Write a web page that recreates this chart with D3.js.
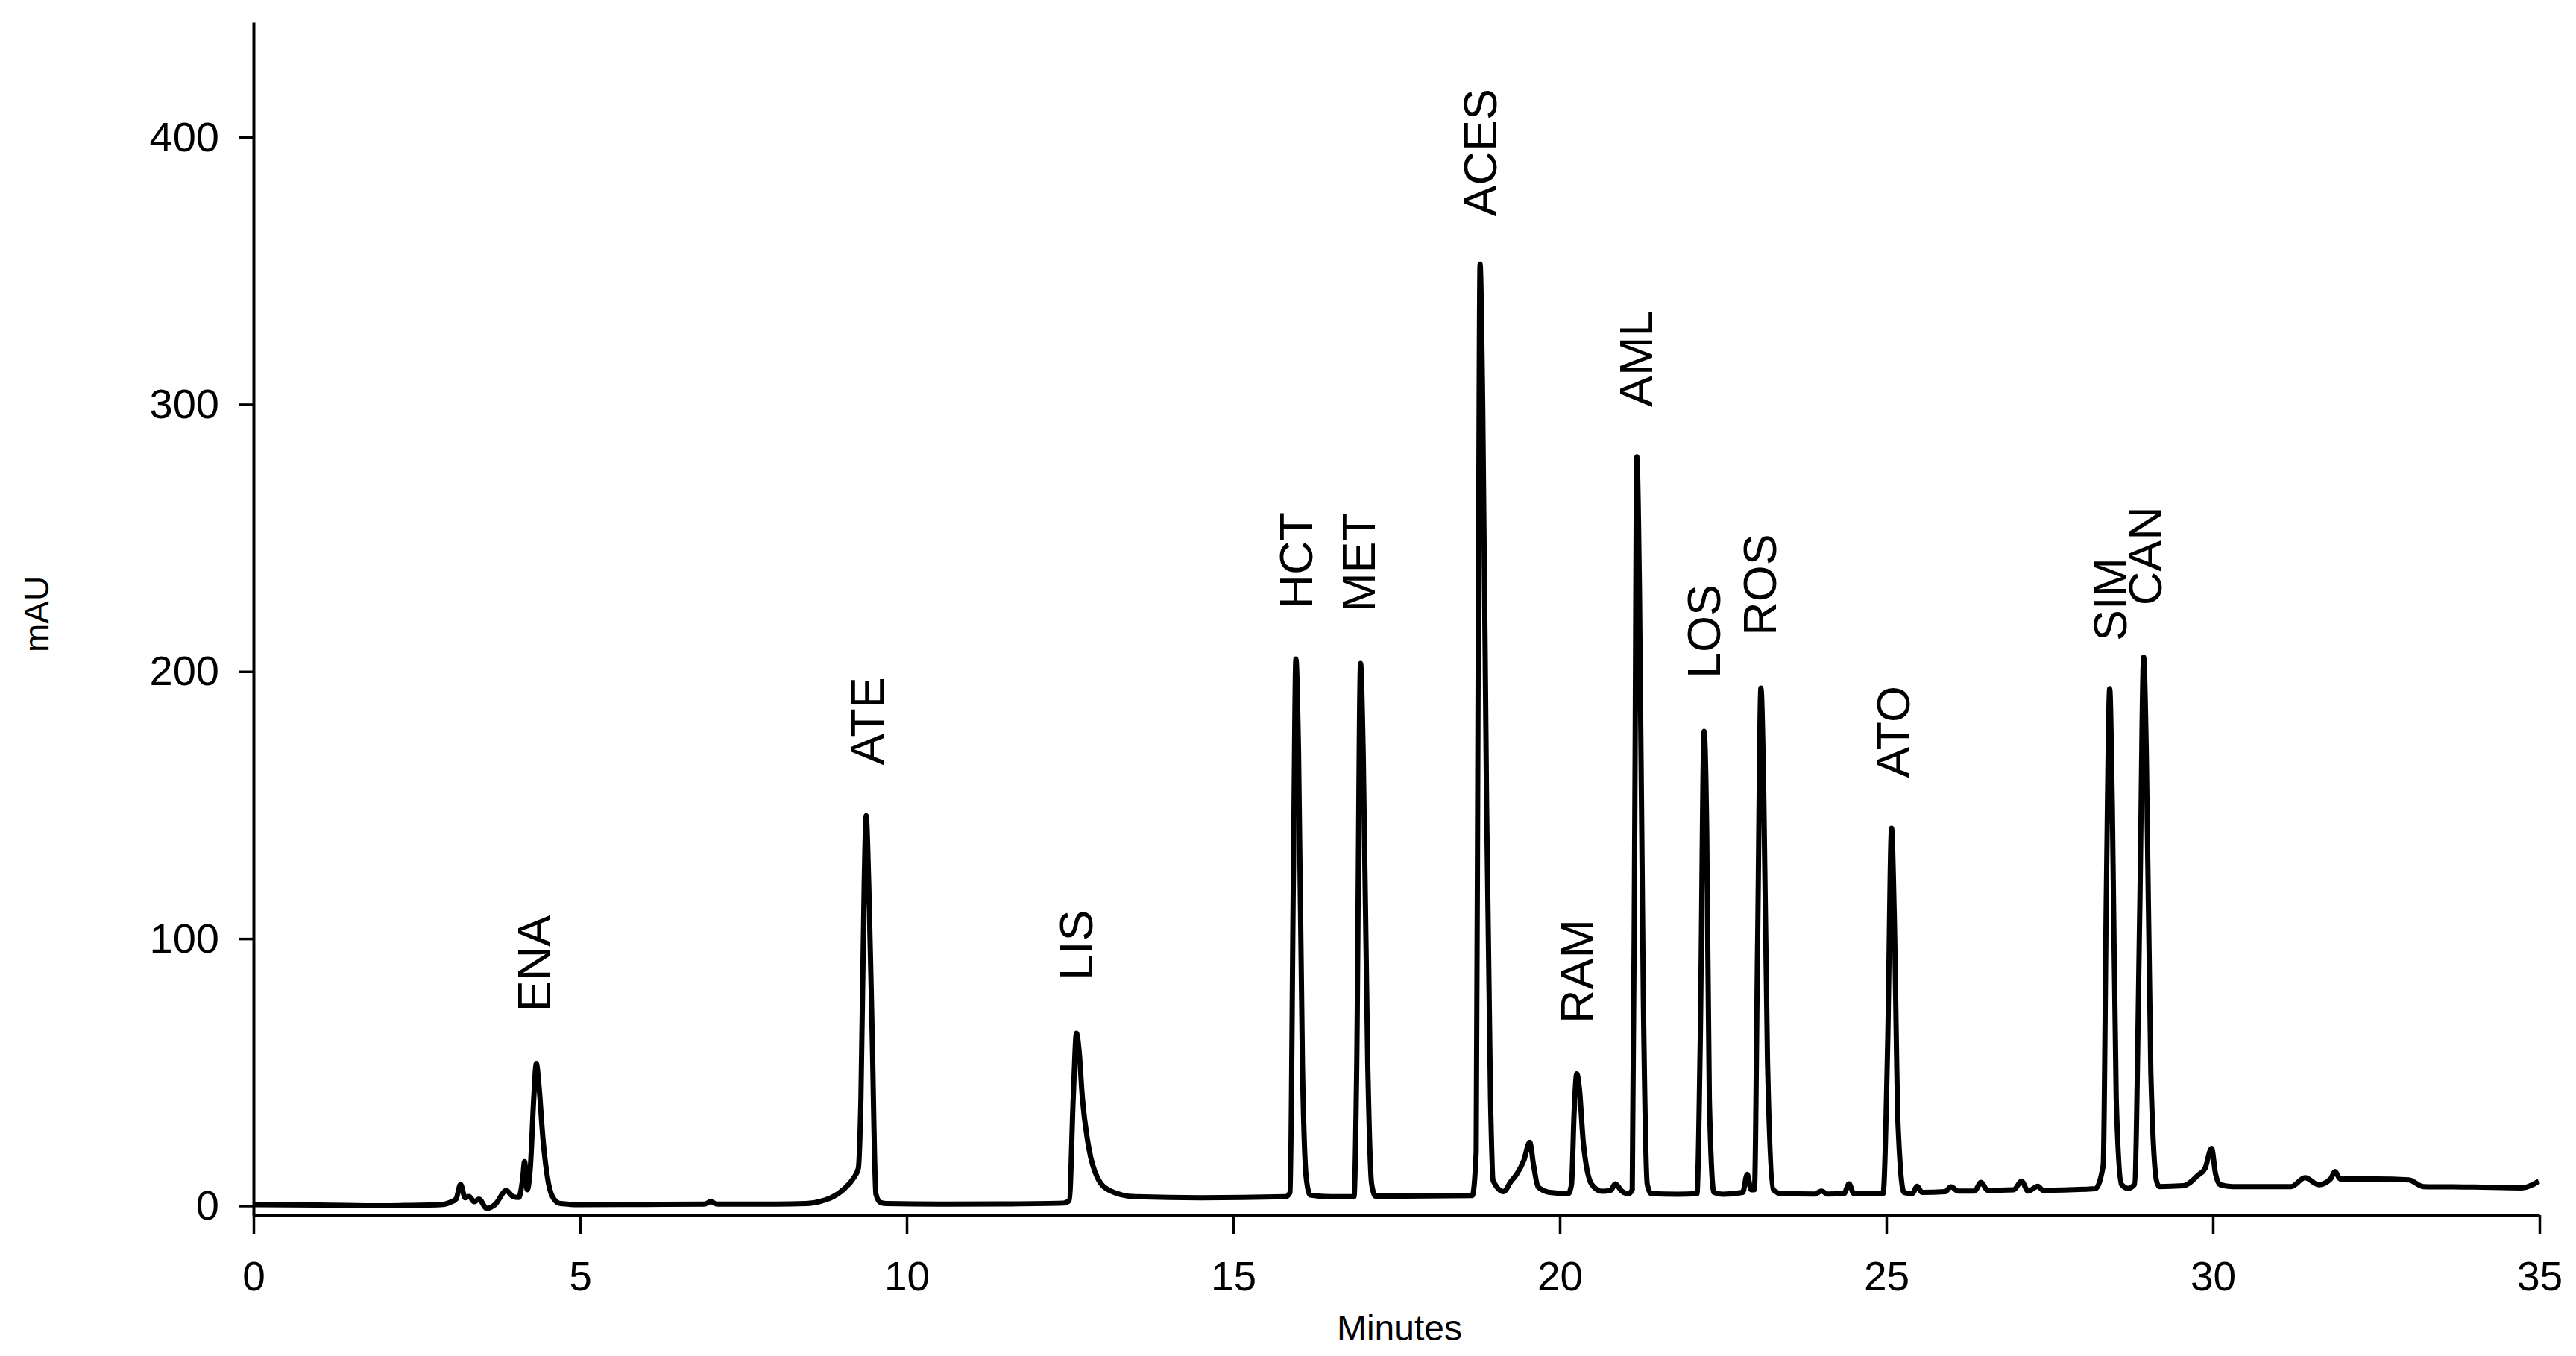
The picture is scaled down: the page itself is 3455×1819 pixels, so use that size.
<!DOCTYPE html>
<meta charset="utf-8">
<script src="https://d3js.org/d3.v7.min.js"></script>
<style>
  body { margin: 0; background: #fff; }
  text { font-family: "Liberation Sans", Arial, sans-serif; fill: #000; }
</style>
<div id="chart"></div>
<script>
// trace: retention time (min) and absorbance (mAU)
var timeMin = [
  0.00, 1.00, 2.00, 2.30, 2.90, 3.00, 3.10, 3.17, 3.24, 3.30, 3.38, 3.45, 3.57, 3.70, 3.87, 3.97,
  4.06, 4.12, 4.15, 4.19, 4.24, 4.29, 4.33, 4.37, 4.43, 4.52, 4.60, 4.70, 5.00, 6.00, 6.90, 7.00,
  7.10, 8.00, 8.46, 8.70, 8.85, 9.05, 9.18, 9.26, 9.30, 9.35, 9.38, 9.42, 9.47, 9.53, 9.60, 9.70,
  10.5, 11.5, 12.40, 12.49, 12.55, 12.60, 12.64, 12.69, 12.79, 12.92, 13.11, 13.50, 14.5, 15.80,
  15.87, 15.92, 15.96, 16.00, 16.06, 16.12, 16.18, 16.50, 16.85, 16.89, 16.95, 16.99, 17.06, 17.12,
  17.18, 17.60, 18.66, 18.72, 18.75, 18.78, 18.82, 18.88, 18.94, 18.98, 19.14, 19.25, 19.34, 19.45,
  19.54, 19.60, 19.67, 19.85, 20.13, 20.18, 20.22, 20.26, 20.30, 20.36, 20.49, 20.65, 20.78, 20.85,
  20.95, 21.05, 21.11, 21.15, 21.18, 21.22, 21.28, 21.34, 21.40, 21.80, 22.10, 22.15, 22.21, 22.25,
  22.29, 22.36, 22.50, 22.80, 22.87, 22.93, 22.98, 23.03, 23.08, 23.12, 23.18, 23.27, 23.40, 23.90,
  24.01, 24.10, 24.35, 24.43, 24.50, 24.95, 25.02, 25.08, 25.12, 25.18, 25.27, 25.40, 25.47, 25.55,
  25.90, 25.99, 26.10, 26.35, 26.45, 26.55, 26.95, 27.07, 27.17, 27.32, 27.40, 28.20, 28.32, 28.37,
  28.42, 28.46, 28.52, 28.60, 28.70, 28.80, 28.88, 28.94, 28.98, 29.05, 29.14, 29.18, 29.55, 29.77,
  29.88, 29.98, 30.04, 30.11, 30.30, 31.20, 31.41, 31.62, 31.80, 31.87, 31.95, 32.50, 33.00, 33.22,
  34.00, 34.73, 34.99
];
var absMAU = [
  0.4, 0.3, 0.0, 0.1, 0.5, 1.2, 2.5, 8.0, 3.0, 3.5, 1.5, 2.5, -1.0, 0.5, 5.7, 3.5,
  3.1, 10, 16.5, 6, 15, 40, 53.3, 45, 25.5, 7.9, 2.5, 0.8, 0.4, 0.5, 0.6, 1.5,
  0.6, 0.6, 0.8, 1.8, 3.1, 6.5, 10.1, 14, 40, 120, 146, 120, 66.5, 4.3, 1.2, 0.8,
  0.6, 0.7, 1.0, 2, 40, 64.6, 58, 40.5, 21.6, 10.6, 5.7, 3.4, 3.0, 3.4,
  5, 120, 204.7, 170, 52.9, 10, 4.0, 3.4, 3.5, 50, 203, 170, 53, 8,
  3.6, 3.6, 3.8, 20, 200, 352.5, 300, 149.7, 40, 9.4, 5.3, 9, 11.8, 17,
  23.8, 15, 7, 5, 4.5, 8, 35, 49.4, 44, 23.9, 8, 5.4, 5.8, 8.2,
  5.5, 4.5, 6, 150, 280.4, 230, 77, 8, 4.5, 4.3, 4.5, 60, 177.6, 140,
  40, 5, 4.3, 5, 11.8, 6, 6, 100, 193.8, 160, 55, 6, 4.5, 4.4,
  5.5, 4.4, 4.5, 8.2, 4.6, 4.6, 60, 141.3, 110, 30, 5, 4.6, 7.3, 5,
  5.3, 7.1, 5.5, 5.5, 8.8, 5.8, 6, 9.2, 5.5, 7.3, 5.8, 6.4, 15, 120,
  193.6, 150, 40, 8, 6.5, 8, 110, 205.4, 170, 50, 9, 7.2, 7.5, 11.4,
  14, 21.5, 12, 7.9, 7.2, 7.2, 10.5, 7.9, 10, 12.8, 10, 10, 9.7, 7.2,
  7.0, 6.7, 9.2
];

// peak labels: name, time of the label centre, mAU where the rotated text starts
var peakNames = ["ENA", "ATE", "LIS", "HCT", "MET", "ACES", "RAM", "AML", "LOS", "ROS", "ATO", "SIM", "CAN"];
var peakTimes = [4.29, 9.39, 12.59, 15.96, 16.92, 18.78, 20.26, 21.16, 22.20, 23.06, 25.10, 28.42, 28.96];
var labelBase = [72.6, 165, 84.4, 223.5, 222.3, 370.3, 68.2, 299, 197.4, 213.4, 160.1, 211.4, 224.7];

var xTicks = [0, 5, 10, 15, 20, 25, 30, 35];
var yTicks = [0, 100, 200, 300, 400];

var W = 3455, H = 1819;

var svg = d3.select("#chart")
  .append("svg")
    .attr("width", W)
    .attr("height", H);

var x = d3.scaleLinear()
  .domain([0, 35])
  .range([340, 3406]);

var y = d3.scaleLinear()
  .domain([-3.5, 443])
  .range([1630, 30]);

// x axis
var gx = svg.append("g")
  .attr("transform", "translate(0,1630)")
  .call(d3.axisBottom(x).tickValues(xTicks).tickSize(25).tickSizeOuter(0).tickPadding(37));
gx.select(".domain").attr("stroke-width", 3.5);
gx.selectAll(".tick line").attr("stroke-width", 3.5);
gx.selectAll(".tick text").attr("font-size", 55);

// y axis
var gy = svg.append("g")
  .attr("transform", "translate(340,0)")
  .call(d3.axisLeft(y).tickValues(yTicks).tickSize(20).tickSizeOuter(0).tickPadding(26));
gy.select(".domain").attr("stroke-width", 4);
gy.selectAll(".tick line").attr("stroke-width", 3.5);
gy.selectAll(".tick text").attr("font-size", 56);

// axis titles
svg.append("text")
  .attr("transform", "translate(49,824) rotate(-90)")
  .attr("text-anchor", "middle")
  .attr("dy", "0.35em")
  .attr("font-size", 46)
  .text("mAU");

svg.append("text")
  .attr("x", 1877)
  .attr("y", 1798)
  .attr("text-anchor", "middle")
  .attr("font-size", 48)
  .text("Minutes");

// trace
var trace = timeMin.map(function(t, i) { return [t, absMAU[i]]; });

svg.append("path")
  .datum(trace)
  .attr("fill", "none")
  .attr("stroke", "#000")
  .attr("stroke-width", 7)
  .attr("stroke-linejoin", "round")
  .attr("d", d3.line()
    .x(function(d) { return x(d[0]); })
    .y(function(d) { return y(d[1]); })
    .curve(d3.curveMonotoneX));

// peak labels
svg.selectAll(".peak")
  .data(peakNames)
  .enter()
  .append("text")
    .attr("class", "peak")
    .attr("transform", function(d, i) {
      return "translate(" + x(peakTimes[i]) + "," + y(labelBase[i]) + ") rotate(-90)";
    })
    .attr("dy", "0.35em")
    .attr("font-size", 63)
    .text(function(d) { return d; });
</script>
